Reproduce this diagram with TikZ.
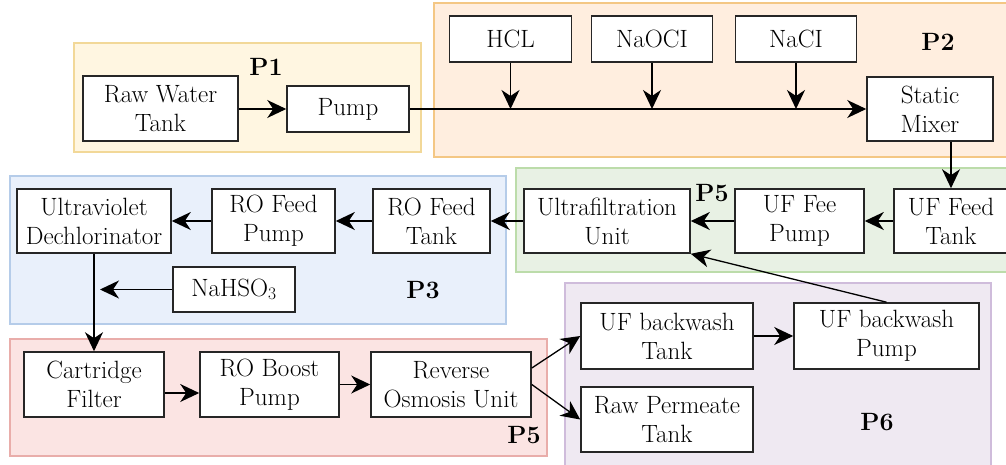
\documentclass[tikz,border=0pt]{standalone}
\usepackage{fontspec}
\usepackage{xcolor}
\usepackage{tikz}
\usetikzlibrary{arrows.meta,positioning,calc}

\definecolor{yelfill}{HTML}{FFF6E1}\definecolor{yeldraw}{HTML}{F2D898}
\definecolor{orgfill}{HTML}{FFEEDF}\definecolor{orgdraw}{HTML}{F4C784}
\definecolor{grnfill}{HTML}{E8F1E4}\definecolor{grndraw}{HTML}{BCDCAA}
\definecolor{blufill}{HTML}{E9F0FB}\definecolor{bludraw}{HTML}{B5CCE9}
\definecolor{redfill}{HTML}{FBE4E3}\definecolor{reddraw}{HTML}{E9ADAA}
\definecolor{purfill}{HTML}{EFE9F2}\definecolor{purdraw}{HTML}{CFBCDB}

\begin{document}
\begin{tikzpicture}[x=1pt, y=-1pt,
  unit/.style={draw=black!85, line width=1.6pt, fill=white, align=center, inner sep=0pt,
    font=\fontsize{25}{29}\selectfont},
  flow/.style={line width=1.3pt, -{Stealth[length=19pt,width=18pt,inset=6pt]}},
  tag/.style={font=\fontsize{25}{29}\selectfont\bfseries}]
  \useasboundingbox (0,0) rectangle (1006,464);
  % regions
  \filldraw[fill=yelfill, draw=yeldraw, line width=1.5pt] (74,43) rectangle (421,152);
  \filldraw[fill=orgfill, draw=orgdraw, line width=1.5pt] (434,3) rectangle (1012,157);
  \filldraw[fill=grnfill, draw=grndraw, line width=1.5pt] (516,168) rectangle (1012,272);
  \filldraw[fill=blufill, draw=bludraw, line width=1.5pt] (10,176) rectangle (506,324);
  \filldraw[fill=redfill, draw=reddraw, line width=1.5pt] (10,339) rectangle (547,456);
  \filldraw[fill=purfill, draw=purdraw, line width=1.5pt] (565,283) rectangle (991,472);
  \node[tag] (p1) at (266,67) {P1};
  \node[tag] (p2) at (938,42) {P2};
  \node[tag] (p5a) at (712,193) {P5};
  \node[tag] (p3) at (423,290) {P3};
  \node[tag] (p5b) at (524,435) {P5};
  \node[tag] (p6) at (877,422) {P6};
  % units
  \node[unit, minimum width=155, minimum height=65] (rawtank) at (160.5,108.5) {Raw Water\\Tank};
  \node[unit, minimum width=122, minimum height=46] (pump) at (348,109) {Pump};
  \node[unit, minimum width=122, minimum height=46] (hcl) at (510.5,39) {HCL};
  \node[unit, minimum width=121, minimum height=46] (naoci) at (652,39) {NaOCI};
  \node[unit, minimum width=121, minimum height=46] (naci) at (796,39) {NaCI};
  \node[unit, minimum width=126, minimum height=64] (mixer) at (930,109) {Static\\Mixer};
  \node[unit, minimum width=114, minimum height=64] (uftank) at (951,221) {UF Feed\\Tank};
  \node[unit, minimum width=129, minimum height=64] (ufpump) at (799.5,221) {UF Fee\\Pump};
  \node[unit, minimum width=166, minimum height=64] (ufunit) at (607,221) {Ultrafiltration\\Unit};
  \node[unit, minimum width=117, minimum height=64] (rotank) at (431.5,221) {RO Feed\\Tank};
  \node[unit, minimum width=123, minimum height=64] (ropump) at (273.5,221) {RO Feed\\Pump};
  \node[unit, minimum width=154, minimum height=64] (uvdc) at (94,221) {Ultraviolet\\Dechlorinator};
  \node[unit, minimum width=122, minimum height=45] (nahso) at (234,289.5) {NaHSO\textsubscript{3}};
  \node[unit, minimum width=140, minimum height=65] (cartridge) at (94,384.5) {Cartridge\\Filter};
  \node[unit, minimum width=139, minimum height=65] (boost) at (269.5,384.5) {RO Boost\\Pump};
  \node[unit, minimum width=160, minimum height=65] (rounit) at (451,384.5) {Reverse\\Osmosis Unit};
  \node[unit, minimum width=172, minimum height=66] (bwtank) at (667,336) {UF backwash\\Tank};
  \node[unit, minimum width=185, minimum height=66] (bwpump) at (886.5,336) {UF backwash\\Pump};
  \node[unit, minimum width=172, minimum height=65] (permeate) at (667,419.5) {Raw Permeate\\Tank};
  \coordinate (dose) at (100,289.5);
  % flow
  \draw[flow] (rawtank.east |- pump.west) -- (pump.west);
  \draw[flow] (pump.east) -- (mixer.west);
  \draw[flow] (hcl.south) -- (hcl.south |- pump.east);
  \draw[flow] (naoci.south) -- (naoci.south |- pump.east);
  \draw[flow] (naci.south) -- (naci.south |- pump.east);
  \draw[flow] (uftank.north |- mixer.south) -- (uftank.north);
  \draw[flow] (uftank.west) -- (ufpump.east);
  \draw[flow] (ufpump.west) -- (ufunit.east);
  \draw[flow] (ufunit.west) -- (rotank.east);
  \draw[flow] (rotank.west) -- (ropump.east);
  \draw[flow] (ropump.west) -- (uvdc.east);
  \draw[flow] (nahso.west) -- (dose);
  \draw[flow] (uvdc.south) -- (cartridge.north);
  \draw[flow] ([yshift=-8.5pt]cartridge.east) -- ([yshift=-8.5pt]boost.west);
  \draw[flow] (boost.east) -- (rounit.west);
  \draw[flow] ([yshift=16.5pt]rounit.east) -- (bwtank.west);
  \draw[flow] (rounit.east) -- (permeate.west);
  \draw[flow] (bwtank.east) -- (bwpump.west);
  \draw[flow] (bwpump.north) -- (ufunit.south east);
\end{tikzpicture}
\end{document}
